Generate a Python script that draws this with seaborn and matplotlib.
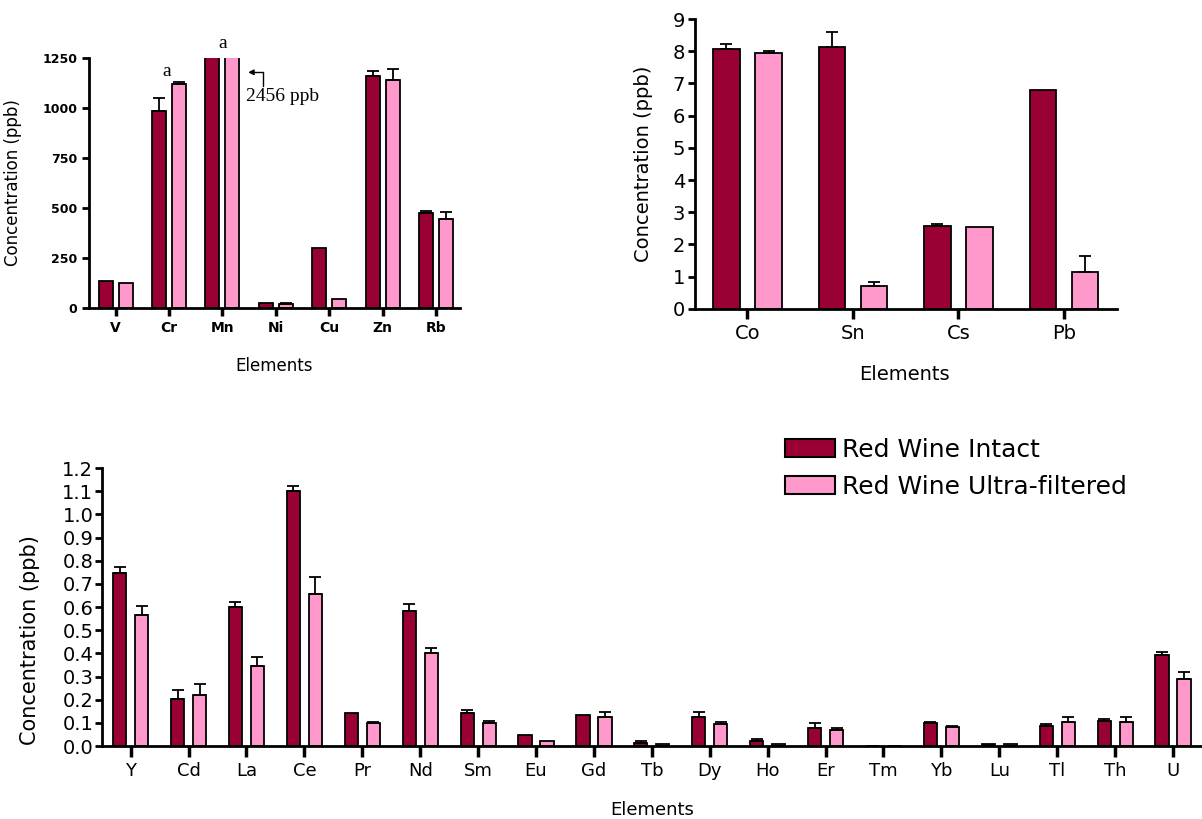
import numpy as np
import pandas as pd
import matplotlib
matplotlib.use("Agg")
import matplotlib.pyplot as plt
import seaborn as sns
from matplotlib.patches import Patch

series = ["Red Wine Intact", "Red Wine Ultra-filtered"]
colors = ["#990033", "#FF99CC"]

# top-left panel (ppb, high levels); Mn is off scale (2456 ppb)
elems_a = ["V", "Cr", "Mn", "Ni", "Cu", "Zn", "Rb"]
intact_a = [136, 984, 2456, 25, 299, 1159, 477]
intact_a_err = [0, 67, 0, 0, 0, 25, 8]
uf_a = [125, 1117, 2456, 20, 47, 1139, 445]
uf_a_err = [0, 10, 0, 8, 0, 54, 35]

# top-right panel
elems_b = ["Co", "Sn", "Cs", "Pb"]
intact_b = [8.07, 8.14, 2.56, 6.81]
intact_b_err = [0.15, 0.45, 0.07, 0]
uf_b = [7.96, 0.72, 2.55, 1.14]
uf_b_err = [0.05, 0.13, 0, 0.51]

# bottom panel (trace / rare earth elements)
elems_c = ["Y", "Cd", "La", "Ce", "Pr", "Nd", "Sm", "Eu", "Gd", "Tb",
           "Dy", "Ho", "Er", "Tm", "Yb", "Lu", "Tl", "Th", "U"]
intact_c = [0.749, 0.202, 0.601, 1.102, 0.144, 0.585, 0.144, 0.049, 0.133, 0.012,
            0.125, 0.020, 0.078, 0, 0.098, 0.010, 0.088, 0.108, 0.394]
intact_c_err = [0.026, 0.040, 0.021, 0.019, 0, 0.029, 0.012, 0, 0, 0.010,
                0.020, 0.010, 0.020, 0, 0.007, 0, 0.009, 0.009, 0.011]
uf_c = [0.566, 0.220, 0.344, 0.658, 0.098, 0.403, 0.098, 0.020, 0.127, 0.010,
        0.094, 0.010, 0.068, 0, 0.080, 0.010, 0.104, 0.105, 0.290]
uf_c_err = [0.039, 0.049, 0.039, 0.071, 0.007, 0.021, 0.010, 0, 0.018, 0,
            0.011, 0, 0.010, 0, 0.008, 0, 0.022, 0.021, 0.030]

sns.set_style("ticks", {"axes.edgecolor": "black", "text.color": "black",
                        "xtick.color": "black", "ytick.color": "black",
                        "axes.labelcolor": "black"})
plt.rcParams["font.family"] = ["DejaVu Sans"]


def grouped_bars(ax, elems, intact, intact_err, uf, uf_err, width, gap):
    df = pd.DataFrame({
        "Element": elems * 2,
        "Sample": [series[0]] * len(elems) + [series[1]] * len(elems),
        "Conc": list(intact) + list(uf),
    })
    sns.barplot(data=df, x="Element", y="Conc", hue="Sample", order=elems,
                hue_order=series, palette=colors, saturation=1, width=width, gap=gap,
                errorbar=None, edgecolor="black", linewidth=1.3,
                legend=False, ax=ax)
    # upper-only error bars, placed on the bars seaborn drew
    for bar in ax.patches:
        cx = bar.get_x() + bar.get_width() / 2
        i = int(round(cx))
        e = intact_err[i] if cx < i else uf_err[i]
        if e > 0:
            ax.errorbar(cx, bar.get_height(), yerr=[[0], [e]], fmt="none",
                        ecolor="black", elinewidth=1.3, capsize=4, capthick=1.3)
    sns.despine(ax=ax)
    for sp in ["left", "bottom"]:
        ax.spines[sp].set_linewidth(2)
    ax.set_xlim(-0.5, len(elems) - 0.5)


fig = plt.figure(figsize=(12.02, 8.19), dpi=100)

# top-left
ax1 = fig.add_axes([0.074, 0.6236, 0.3087, 0.306])
grouped_bars(ax1, elems_a, intact_a, intact_a_err, uf_a, uf_a_err, 0.75, 0.3)
ax1.set_xlim(-0.5, 6.45)
ax1.set_ylim(0, 1250)
ax1.set_yticks([0, 250, 500, 750, 1000, 1250])
ax1.tick_params(axis="y", labelsize=9, length=5, width=2)
ax1.tick_params(axis="x", labelsize=10, length=6, width=2.5)
for t in ax1.get_xticklabels() + ax1.get_yticklabels():
    t.set_fontweight("bold")
ax1.set_ylabel("Concentration (ppb)", fontsize=12)
ax1.set_xlabel("Elements", fontsize=12, va="top")
ax1.yaxis.set_label_coords(-0.18, 0.5)
ax1.xaxis.set_label_coords(0.5, -0.194)
ax1.text(0.955, 1180, "a", fontsize=14, family="Liberation Serif", ha="center", va="center")
ax1.text(2.0, 1322, "a", fontsize=14, family="Liberation Serif", ha="center", va="center",
         clip_on=False)
ax1.text(2.45, 1055, "2456 ppb", fontsize=14, family="Liberation Serif", ha="left", va="center")
ax1.annotate("", xy=(2.48, 1177), xytext=(2.76, 1110),
             arrowprops=dict(arrowstyle="-|>", lw=1, color="black", mutation_scale=8,
                             connectionstyle="angle,angleA=90,angleB=0,rad=0",
                             shrinkA=0, shrinkB=0))

# top-right
ax2 = fig.add_axes([0.578, 0.6228, 0.351, 0.354])
grouped_bars(ax2, elems_b, intact_b, intact_b_err, uf_b, uf_b_err, 0.8, 0.375)
ax2.set_ylim(0, 9)
ax2.set_yticks(range(0, 10))
ax2.tick_params(axis="y", labelsize=14, length=5, width=2, pad=2)
ax2.tick_params(axis="x", labelsize=14, length=7, width=2.5)
ax2.set_ylabel("Concentration (ppb)", fontsize=14)
ax2.set_xlabel("Elements", fontsize=14, va="top")
ax2.yaxis.set_label_coords(-0.099, 0.5)
ax2.xaxis.set_label_coords(0.496, -0.193)

# bottom
ax3 = fig.add_axes([0.0846, 0.0891, 0.9154, 0.3394])
grouped_bars(ax3, elems_c, intact_c, intact_c_err, uf_c, uf_c_err, 0.76, 0.4)
ax3.set_ylim(0, 1.2)
ax3.set_yticks(np.arange(0, 1.21, 0.1))
ax3.yaxis.set_major_formatter(lambda v, _: f"{v:.1f}")
ax3.tick_params(axis="y", labelsize=14, length=5, width=2, pad=1)
ax3.tick_params(axis="x", labelsize=13, length=8, width=2.5)
ax3.set_ylabel("Concentration (ppb)", fontsize=15)
ax3.set_xlabel("Elements", fontsize=13, va="top")
ax3.yaxis.set_label_coords(-0.056, 0.383)
ax3.xaxis.set_label_coords(0.5, -0.196)

handles = [Patch(facecolor=c, edgecolor="black", linewidth=1.5, label=s)
           for c, s in zip(colors, series)]
fig.legend(handles=handles, loc="upper left", bbox_to_anchor=(785 / 1202, 1 - 438 / 819),
           frameon=False, fontsize=18, handlelength=2.0, handleheight=0.75,
           handletextpad=0.3, labelspacing=0.5, borderpad=0, borderaxespad=0)

fig.savefig("out.png", dpi=100)
